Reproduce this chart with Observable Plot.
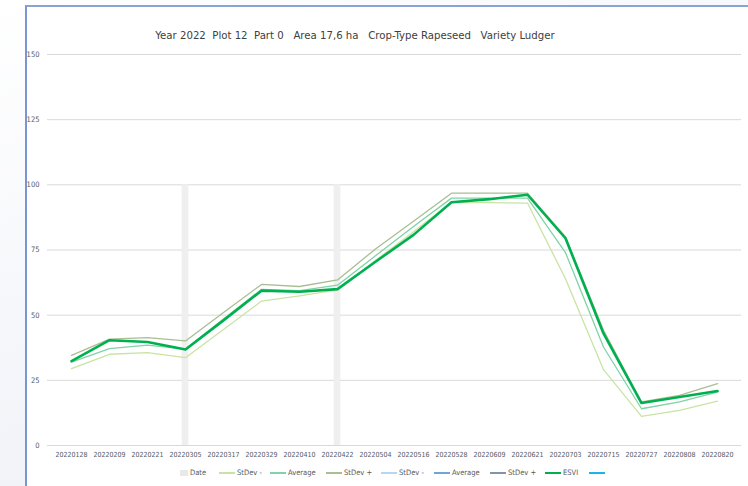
<!DOCTYPE html>
<html>
<head>
<meta charset="utf-8">
<script src="https://cdn.jsdelivr.net/npm/d3@7"></script>
<script src="https://cdn.jsdelivr.net/npm/@observablehq/plot@0.6"></script>
<style>
  html, body { margin: 0; padding: 0; }
  body { width: 748px; height: 486px; position: relative; overflow: hidden;
         background: linear-gradient(160deg, #ffffff 0%, #f2f4f9 60%, #e9edf5 100%);
         font-family: "Liberation Sans Narrow", "DejaVu Sans Condensed", "Liberation Sans", sans-serif; }
  #card { position: absolute; left: 25px; top: 5px; width: 740px; height: 500px; background: #fff;
          border-left: 2px solid #7b95d3; border-top: 2px solid #8aa2d8; }
  #title { position: absolute; left: 0; width: 710px; top: 29px; text-align: center; font-size: 11.3px;
           color: #404040; white-space: pre; }
  #chart { position: absolute; left: 0; top: 0; }
  #legend { position: absolute; left: 0; top: 467px; width: 748px; height: 14px; font-size: 7.5px; color: #595959; }
  .item { position: absolute; top: 0; white-space: nowrap; line-height: 12px; }
  .sw { display: inline-block; vertical-align: middle; width: 16px; margin-right: 2px; }
</style>
</head>
<body>
<div id="card"></div>
<div id="title"></div>
<div id="chart"></div>
<div id="legend"></div>
<script>
const titleText = "Year 2022  Plot 12  Part 0   Area 17,6 ha   Crop-Type Rapeseed   Variety Ludger";
const dates = ["20220128","20220209","20220221","20220305","20220317","20220329","20220410","20220422","20220504","20220516","20220528","20220609","20220621","20220703","20220715","20220727","20220808","20220820"];
const dateMarkers = ["20220305","20220422"];
const dateMarkerValue = 100;
const stdevMinus = [29.5,35,35.6,33.7,44.5,55.4,57.4,59.7,71,82,93.3,93.2,93,64,29.1,11.2,13.5,17];
const average    = [32,37.2,38.5,37,48.5,59.9,59.4,61.5,72.8,84,94.9,94.9,94.9,74,37.8,14.1,16.7,20.5];
const stdevPlus  = [34.6,40.8,41.4,40.1,51,61.8,61,63.5,75.4,86,96.8,96.8,96.8,80,44.2,16.7,19.2,23.7];
const esvi       = [32.4,40.4,39.7,36.8,48,59.4,59,60,70.5,80.8,93.3,94.5,96.2,79.5,43,16.3,18.6,20.9];
const yTicks = [0,25,50,75,100,125,150];
const legendNames = ["Date","StDev -","Average","StDev +","StDev -","Average","StDev +","ESVI",""];
const legendColors = ["#e8e8e8","#c8e4a4","#7fd3a6","#a9be92","#b7d6f2","#6ea6dc","#8592ab","#00b050","#1cb4ec"];
const legendLeft = [180,219,270,326,381,434,490,545,589];

document.getElementById("title").textContent = titleText;

const rows = (vals, series) => dates.map((d, i) => ({date: d, value: vals[i], series}));
const bars = dateMarkers.map(d => ({date: d, value: dateMarkerValue}));

const chart = Plot.plot({
  width: 748,
  height: 486,
  marginLeft: 47,
  marginRight: 7,
  marginTop: 54,
  marginBottom: 41,
  style: {background: "transparent", fontFamily: "'Liberation Sans Narrow', 'DejaVu Sans Condensed', sans-serif", fontSize: "7px", color: "#595959"},
  x: {type: "band", domain: dates, padding: 0, label: null},
  y: {domain: [0, 150], ticks: yTicks, label: null},
  marks: [
    Plot.gridY(yTicks, {stroke: "#d9d9d9", strokeOpacity: 1, strokeWidth: 1}),
    Plot.barY(bars, {x: "date", y: "value", fill: "#efefef", insetLeft: 15.7, insetRight: 15.7}),
    Plot.axisY(yTicks, {tickSize: 0, tickPadding: 8, fill: "#595959", fontSize: 7.5}),
    Plot.axisX(dates, {tickSize: 0, tickPadding: 7, fill: "#595959", fontSize: 7}),
    Plot.lineY(rows(stdevMinus, "StDev -"), {x: "date", y: "value", stroke: "#c8e4a4", strokeWidth: 1.3}),
    Plot.lineY(rows(average, "Average"), {x: "date", y: "value", stroke: "#7fd3a6", strokeWidth: 1.3}),
    Plot.lineY(rows(stdevPlus, "StDev +"), {x: "date", y: "value", stroke: "#a9be92", strokeWidth: 1.3}),
    Plot.lineY(rows(esvi, "ESVI"), {x: "date", y: "value", stroke: "#00b050", strokeWidth: 2.6})
  ]
});
document.getElementById("chart").appendChild(chart);

const legend = document.getElementById("legend");
legendNames.forEach((name, i) => {
  const it = document.createElement("div");
  it.className = "item";
  it.style.left = legendLeft[i] + "px";
  const sw = document.createElement("span");
  sw.className = "sw";
  if (i === 0) {
    sw.style.width = "8px"; sw.style.height = "6px"; sw.style.background = legendColors[i];
  } else {
    sw.style.height = (name === "ESVI" || name === "" ? 2.5 : 1.3) + "px";
    sw.style.background = legendColors[i];
  }
  it.appendChild(sw);
  it.appendChild(document.createTextNode(name));
  legend.appendChild(it);
});
</script>
</body>
</html>
